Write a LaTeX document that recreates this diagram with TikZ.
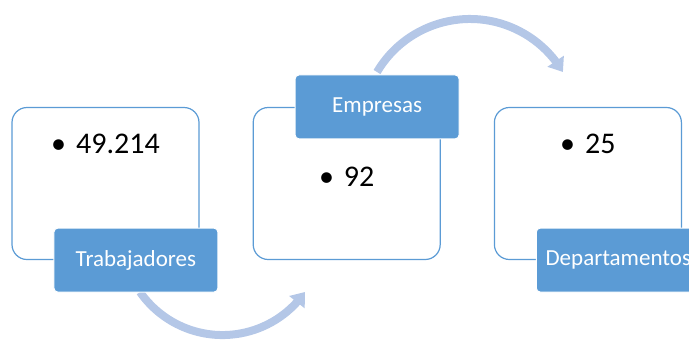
\documentclass[tikz,border=0pt]{standalone}
\usepackage{fontspec}
\setmainfont{Carlito}
\usetikzlibrary{positioning, arrows.meta, bending}
\definecolor{tagblue}{RGB}{91,155,213}
\definecolor{flowblue}{RGB}{180,199,231}

\begin{document}
\begin{tikzpicture}[x=1pt, y=-1pt,
    card/.style={draw=tagblue, line width=1.2pt, fill=white, rounded corners=15pt, minimum width=187pt, minimum height=152pt},
    tag/.style={draw=white, line width=1pt, fill=tagblue, rounded corners=4pt, minimum width=164pt, minimum height=64pt, text=white, font=\fontsize{23}{28}\selectfont},
    item/.style={anchor=base, inner sep=0pt, font=\fontsize{30}{36}\selectfont},
    flow/.style={draw=flowblue, line width=8pt, -{Triangle[length=13pt, width=19pt]}}]
            \useasboundingbox (0,0) rectangle (689,341);
            \clip (0,0) rectangle (689,341);

            % arcs go under the boxes
            \coordinate (a1) at (140,292);
            \coordinate (a2) at (377,72);
            \draw[flow] (a1) arc[start angle=214.9, end angle=325.1, radius=100.6pt];
            \draw[flow] (a2) arc[start angle=149.4, end angle=30.6, radius=108pt];

            \node[card] (box1) at (105.5,183.5) {};
            \node[card, right=53pt of box1] (box2) {};
            \node[card, right=53pt of box2] (box3) {};

            \node[tag, anchor=west, xshift=42pt] (trab) at (box1.south west) {Trabajadores};
            \node[tag, anchor=west, xshift=42pt] (emp) at (box2.north west) {Empresas};
            \node[tag, anchor=west, xshift=42pt] (dep) at (box3.south west) {Departamentos};

            \node[item] (n1) at ([yshift=-47pt]box1.north) {\textbullet\hspace{10pt}49.214};
            \node[item] (n2) at ([yshift=-80pt]box2.north) {\textbullet\hspace{10pt}92};
            \node[item] (n3) at ([yshift=-47pt]box3.north) {\textbullet\hspace{10pt}25};
\end{tikzpicture}
\end{document}
